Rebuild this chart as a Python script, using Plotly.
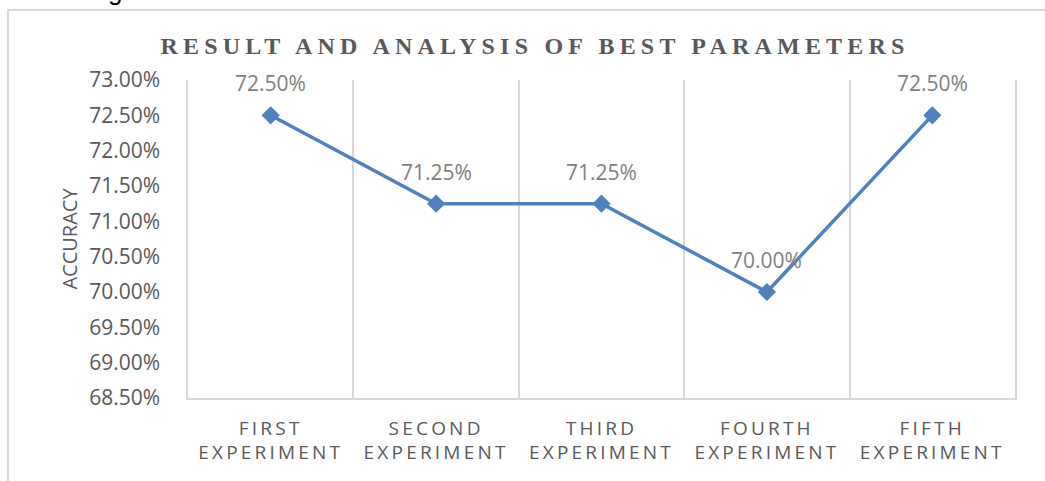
import plotly.graph_objects as go

# chart data
experiments = ["FIRST<br>EXPERIMENT", "SECOND<br>EXPERIMENT", "THIRD<br>EXPERIMENT",
               "FOURTH<br>EXPERIMENT", "FIFTH<br>EXPERIMENT"]
accuracy = [0.725, 0.7125, 0.7125, 0.70, 0.725]
y_ticks = [0.685, 0.69, 0.695, 0.70, 0.705, 0.71, 0.715, 0.72, 0.725, 0.73]

FONT = "Open Sans"
GRID = "#d9d9d9"

fig = go.Figure()
fig.add_trace(go.Scatter(
    x=experiments, y=accuracy,
    mode="lines+markers",
    line=dict(color="#4f81bd", width=3.5),
    marker=dict(symbol="diamond", size=14, color="#4f81bd"),
    showlegend=False,
))

# data labels above each point
for xv, yv in zip(experiments, accuracy):
    fig.add_annotation(
        x=xv, y=yv, text=f"{yv:.2%}", showarrow=False,
        yshift=32, font=dict(family=FONT, size=21, color="#7f7f7f"),
    )

# outer chart border (left + top visible)
fig.add_shape(type="rect", xref="paper", yref="paper",
              x0=-0.2177, x1=1.2, y0=-0.6, y1=1.2205,
              line=dict(color=GRID, width=2), layer="below")

# partly cut caption letter at top
fig.add_annotation(xref="paper", yref="paper", x=-0.088, y=1.225,
                   xanchor="center", yanchor="bottom", text="g", showarrow=False,
                   font=dict(family="Liberation Sans", size=26, color="#000000"))

fig.update_layout(
    width=1045, height=481,
    margin=dict(l=188, r=30, t=80, b=83),
    paper_bgcolor="white", plot_bgcolor="white",
    title=dict(text="<b>RESULT AND ANALYSIS OF BEST PARAMETERS</b>",
               x=0.512, xanchor="center", y=0.905, yanchor="middle",
               font=dict(family="Liberation Serif", size=24, color="#595959")),
    xaxis=dict(
        type="category", tickson="boundaries", automargin=False,
        showgrid=True, gridcolor=GRID, gridwidth=1.5,
        showline=True, linecolor=GRID, linewidth=1.5,
        ticks="", ticklabelstandoff=12,
        tickfont=dict(family=FONT, size=19, color="#595959"),
        range=[-0.5, 4.5],
    ),
    yaxis=dict(
        range=[0.685, 0.73], tickvals=y_ticks, tickformat=".2%",
        automargin=False,
        showgrid=False, zeroline=False,
        showline=True, mirror=True, linecolor=GRID, linewidth=1.5,
        ticklabelstandoff=22,
        tickfont=dict(family=FONT, size=21, color="#595959"),
        title=dict(text="ACCURACY", standoff=6,
                   font=dict(family=FONT, size=20, color="#595959")),
    ),
)

css = """
document.body.style.margin = '0';
var s = document.createElement('style');
s.innerHTML = '.xtick text {letter-spacing: 3.2px;} .gtitle {letter-spacing: 5.2px;}';
document.head.appendChild(s);
"""

fig.write_html("out.html", post_script=css, config={"displayModeBar": False})
